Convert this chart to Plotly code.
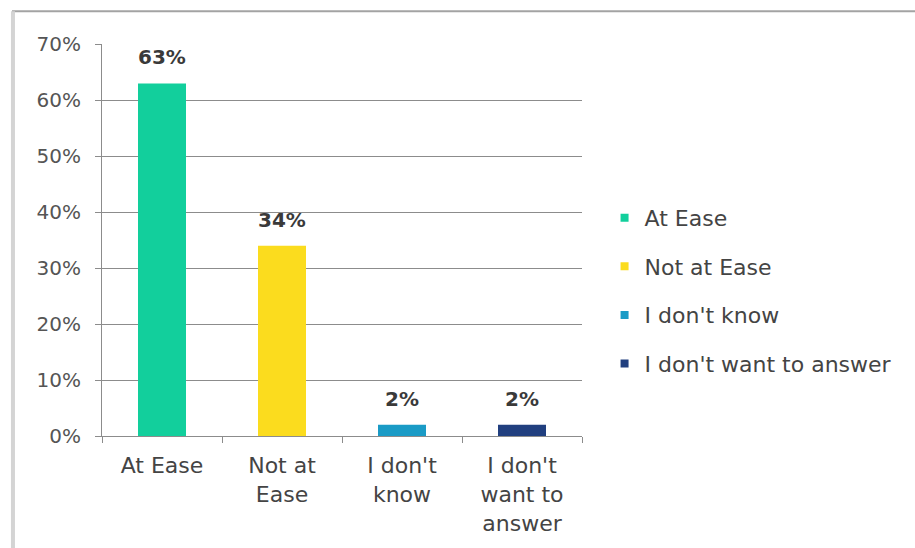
import plotly.graph_objects as go

# Survey answers and their shares (%)
categories = ["At Ease", "Not at Ease", "I don't know", "I don't want to answer"]
tick_labels = ["At Ease", "Not at<br>Ease", "I don't<br>know", "I don't<br>want to<br>answer"]
values = [63, 34, 2, 2]
colors = ["#12cf9c", "#fbdc1e", "#1a9bc6", "#213f7f"]
y_ticks = [0, 10, 20, 30, 40, 50, 60, 70]
y_tick_labels = [f"{v}%" for v in y_ticks]

FONT = "DejaVu Sans"
fig = go.Figure()

for cat, val, col in zip(categories, values, colors):
    fig.add_trace(go.Bar(
        x=[cat], y=[val], marker=dict(color=col, line=dict(width=0)),
        width=0.4, showlegend=False, hoverinfo="skip",
    ))
    # legend entry with a small square key
    fig.add_trace(go.Scatter(
        x=[None], y=[None], mode="markers", name=cat, legendgroup=cat,
        marker=dict(symbol="square", size=8, color=col),
    ))

# value labels above each bar
for cat, val in zip(categories, values):
    fig.add_annotation(
        x=cat, y=val, text=f"<b>{val}%</b>", showarrow=False,
        yanchor="bottom", yshift=12,
        font=dict(family=FONT, size=20, color="#3a3a3a"),
    )

# outer frame: darker top edge, light left edge
fig.add_shape(type="line", xref="paper", yref="paper",
              x0=-0.1875, x1=2.0, y0=1.0835, y1=1.0835,
              line=dict(color="#a3a3a3", width=2))
fig.add_shape(type="line", xref="paper", yref="paper",
              x0=-0.1855, x1=-0.1855, y0=1.0835, y1=-0.3,
              line=dict(color="#d4d4d4", width=4))

fig.update_layout(
    width=915, height=548,
    margin=dict(l=102, r=333, t=44, b=112, autoexpand=False),
    plot_bgcolor="white", paper_bgcolor="white",
    barmode="overlay",
    font=dict(family=FONT, size=22, color="#444444"),
    xaxis=dict(
        categoryorder="array", categoryarray=categories,
        tickvals=categories, ticktext=tick_labels,
        showline=True, linecolor="#8c8c8c", linewidth=1,
        ticks="outside", tickson="boundaries", ticklen=6, tickcolor="#8c8c8c",
        showgrid=False, tickfont=dict(size=22, color="#444444"),
        ticklabelstandoff=10, automargin=False,
        range=[-0.5, 3.5],
    ),
    yaxis=dict(
        range=[0, 70.05], tickvals=y_ticks, ticktext=y_tick_labels,
        showgrid=True, gridcolor="#8c8c8c", gridwidth=1,
        showline=True, linecolor="#8c8c8c", linewidth=1,
        ticks="outside", ticklen=6, tickcolor="#8c8c8c",
        tickfont=dict(size=20, color="#555555"), zeroline=False,
        ticklabelstandoff=10, automargin=False,
    ),
    legend=dict(
        x=1.047, xanchor="left", y=0.61, yanchor="top",
        font=dict(size=22, color="#444444"),
        tracegroupgap=17, itemwidth=30,
        bgcolor="rgba(0,0,0,0)",
    ),
)

fig.write_html("out.html")
